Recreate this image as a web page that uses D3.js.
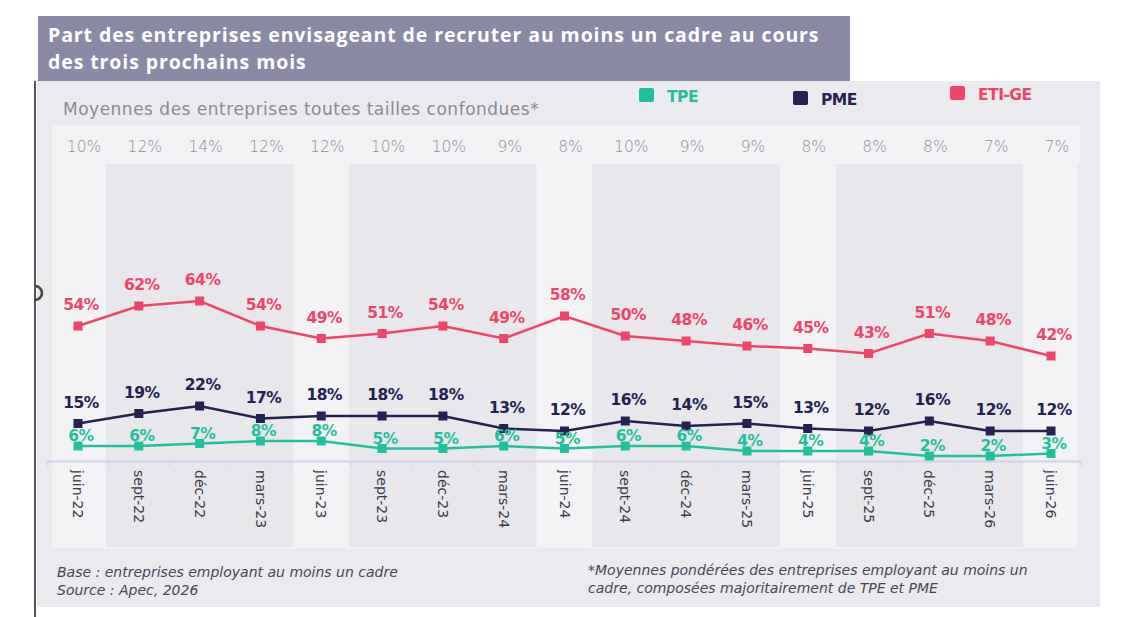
<!DOCTYPE html>
<html>
<head>
<meta charset="utf-8">
<script src="https://cdn.jsdelivr.net/npm/d3@7"></script>
<style>
  body { margin: 0; background: #fff; }
  svg { display: block; font-family: "DejaVu Sans", sans-serif; }
</style>
</head>
<body>
<div id="chart"></div>
<script>
// les données
var categories = ["juin-22", "sept-22", "déc-22", "mars-23", "juin-23", "sept-23", "déc-23", "mars-24",
    "juin-24", "sept-24", "déc-24", "mars-25", "juin-25", "sept-25", "déc-25", "mars-26", "juin-26"];
var moyenne = [10, 12, 14, 12, 12, 10, 10, 9, 8, 10, 9, 9, 8, 8, 8, 7, 7];
var eti = [54, 62, 64, 54, 49, 51, 54, 49, 58, 50, 48, 46, 45, 43, 51, 48, 42];
var pme = [15, 19, 22, 17, 18, 18, 18, 13, 12, 16, 14, 15, 13, 12, 16, 12, 12];
var tpe = [6, 6, 7, 8, 8, 5, 5, 6, 5, 6, 6, 4, 4, 4, 2, 2, 3];

var colors = { "TPE": "#1fc19c", "PME": "#232250", "ETI-GE": "#f0456b" };

var svg = d3.select("#chart")
    .append("svg")
    .attr("width", 1130).attr("height", 617);

var x = d3.scalePoint().domain(categories).range([78, 1051]);
var step = x.step();
var xBand = d3.scaleBand().domain(categories).range([78 - step / 2, 1051 + step / 2]);
var y = d3.scaleLinear().domain([0, 100]).range([461, 211]);

// bord gauche de la diapo
svg.append("line")
    .attr("x1", 35).attr("x2", 35).attr("y1", 81).attr("y2", 617)
    .attr("stroke", "#555").attr("stroke-width", 2);

// fond du panneau
svg.append("rect")
    .attr("x", 37).attr("y", 81).attr("width", 1063).attr("height", 526)
    .attr("fill", "#eaeaef");

// poignée (demi-cercle)
svg.append("path")
    .attr("d", "M35,286 A7,7 0 0 1 35,300")
    .attr("fill", "none").attr("stroke", "#444").attr("stroke-width", 2.5);

// bande du haut (moyennes)
svg.append("rect")
    .attr("x", 55).attr("y", 125).attr("width", 1025).attr("height", 38)
    .attr("fill", "#f3f3f6");

// colonnes juin
var juinIdx = [];
categories.forEach(function (c, i) { if (c.indexOf("juin") === 0) juinIdx.push(i); });

svg.selectAll("rect.juin")
    .data(juinIdx)
    .enter()
    .append("rect")
    .attr("class", "juin")
    .attr("x", function (i) { return x(categories[i]) - 26; })
    .attr("y", 125)
    .attr("width", 52)
    .attr("height", 423)
    .attr("fill", "#f3f3f6");

// blocs gris entre les colonnes juin
var groups = [];
for (var g = 0; g < juinIdx.length - 1; g++) {
    groups.push({ a: juinIdx[g], b: juinIdx[g + 1] });
}
svg.selectAll("rect.grp")
    .data(groups)
    .enter()
    .append("rect")
    .attr("class", "grp")
    .attr("x", function (d) { return x(categories[d.a]) + 27; })
    .attr("y", 163)
    .attr("width", function (d) { return x(categories[d.b]) - x(categories[d.a]) - 54; })
    .attr("height", 385)
    .attr("fill", "#e7e7ec")
    .attr("stroke", "#f6f6f9")
    .attr("stroke-width", 1.5);

// ligne des moyennes
svg.selectAll("text.moy")
    .data(moyenne)
    .enter()
    .append("text")
    .attr("class", "moy")
    .attr("x", function (d, i) { return x(categories[i]) + 6; })
    .attr("y", 152)
    .attr("text-anchor", "middle")
    .attr("font-size", 15.5)
    .attr("font-weight", 200)
    .attr("fill", "#8d8d96")
    .text(function (d) { return d + "%"; });

// axe des x
var axis = svg.append("g")
    .attr("transform", "translate(0,461)")
    .call(d3.axisBottom(xBand).tickSize(0).tickSizeOuter(0).tickPadding(0));
axis.select(".domain").attr("stroke", "#d2d2e8").attr("stroke-width", 2);
axis.selectAll("text")
    .attr("x", 0).attr("y", 0).attr("dy", "0.35em")
    .attr("transform", "translate(0,9) rotate(90)")
    .style("text-anchor", "start")
    .attr("font-size", 14)
    .attr("font-family", "DejaVu Sans, sans-serif")
    .attr("fill", "#3b3b46");

svg.selectAll("line.tk")
    .data(categories.concat(["fin"]))
    .enter()
    .append("line")
    .attr("class", "tk")
    .attr("x1", function (d, i) { return xBand.range()[0] + i * step; })
    .attr("x2", function (d, i) { return xBand.range()[0] + i * step; })
    .attr("y1", 461).attr("y2", 466)
    .attr("stroke", "#d2d2e8").attr("stroke-width", 1);

// séries
var series = [
    { name: "ETI-GE", values: eti, dy: -16 },
    { name: "PME", values: pme, dy: -16 },
    { name: "TPE", values: tpe, dy: -5 }
];

var line = d3.line()
    .x(function (d, i) { return x(categories[i]); })
    .y(function (d) { return y(d); });

series.forEach(function (s) {
    svg.append("path")
        .datum(s.values)
        .attr("d", line)
        .attr("fill", "none")
        .attr("stroke", colors[s.name])
        .attr("stroke-width", 2.5);

    svg.selectAll("rect.m-" + s.name)
        .data(s.values)
        .enter()
        .append("rect")
        .attr("class", "m-" + s.name)
        .attr("x", function (d, i) { return x(categories[i]) - 4.5; })
        .attr("y", function (d) { return y(d) - 4.5; })
        .attr("width", 9).attr("height", 9)
        .attr("fill", colors[s.name]);
});

series.forEach(function (s) {
    svg.selectAll("text.l-" + s.name)
        .data(s.values)
        .enter()
        .append("text")
        .attr("class", "l-" + s.name)
        .attr("x", function (d, i) { return x(categories[i]) + 3; })
        .attr("y", function (d) { return y(d) + s.dy; })
        .attr("text-anchor", "middle")
        .attr("font-size", 15.5)
        .attr("font-weight", 700)
        .attr("letter-spacing", -0.5)
        .attr("fill", colors[s.name])
        .text(function (d) { return d + "%"; });
});

// titre
svg.append("rect")
    .attr("x", 38).attr("y", 16).attr("width", 812).attr("height", 65)
    .attr("fill", "#8a8aa6");
svg.selectAll("text.titre")
    .data(["Part des entreprises envisageant de recruter au moins un cadre au cours",
        "des trois prochains mois"])
    .enter()
    .append("text")
    .attr("class", "titre")
    .attr("x", 48).attr("y", function (d, i) { return 42 + i * 27; })
    .attr("font-family", "Open Sans, sans-serif")
    .attr("font-size", 19.5).attr("font-weight", 700).attr("fill", "#fff")
    .attr("letter-spacing", 0.9)
    .text(function (d) { return d; });

// sous-titre
svg.append("text")
    .attr("x", 63).attr("y", 115)
    .attr("font-size", 17).attr("letter-spacing", 0.5).attr("fill", "#8a8a93")
    .text("Moyennes des entreprises toutes tailles confondues*");

// légende
var legendPos = [
    { name: "TPE", x: 639, y: 88 },
    { name: "PME", x: 793, y: 91 },
    { name: "ETI-GE", x: 950, y: 86 }
];
legendPos.forEach(function (l) {
    svg.append("rect")
        .attr("x", l.x).attr("y", l.y).attr("width", 15).attr("height", 14)
        .attr("rx", 2).attr("fill", colors[l.name]);
    svg.append("text")
        .attr("x", l.x + 28).attr("y", l.y + 14)
        .attr("font-size", 15.5).attr("font-weight", 700)
        .attr("letter-spacing", -0.5)
        .attr("fill", colors[l.name])
        .text(l.name);
});

// notes
var notesLeft = ["Base : entreprises employant au moins un cadre", "Source : Apec, 2026"];
var notesRight = ["*Moyennes pondérées des entreprises employant au moins un",
    "cadre, composées majoritairement de TPE et PME"];
svg.selectAll("text.nl")
    .data(notesLeft)
    .enter()
    .append("text")
    .attr("class", "nl")
    .attr("x", 57).attr("y", function (d, i) { return 577 + i * 18; })
    .attr("font-size", 14).attr("font-style", "italic")
    .attr("fill", "#474752")
    .text(function (d) { return d; });
svg.selectAll("text.nr")
    .data(notesRight)
    .enter()
    .append("text")
    .attr("class", "nr")
    .attr("x", 588).attr("y", function (d, i) { return 575 + i * 18; })
    .attr("font-size", 14).attr("font-style", "italic")
    .attr("fill", "#474752")
    .text(function (d) { return d; });
</script>
</body>
</html>
